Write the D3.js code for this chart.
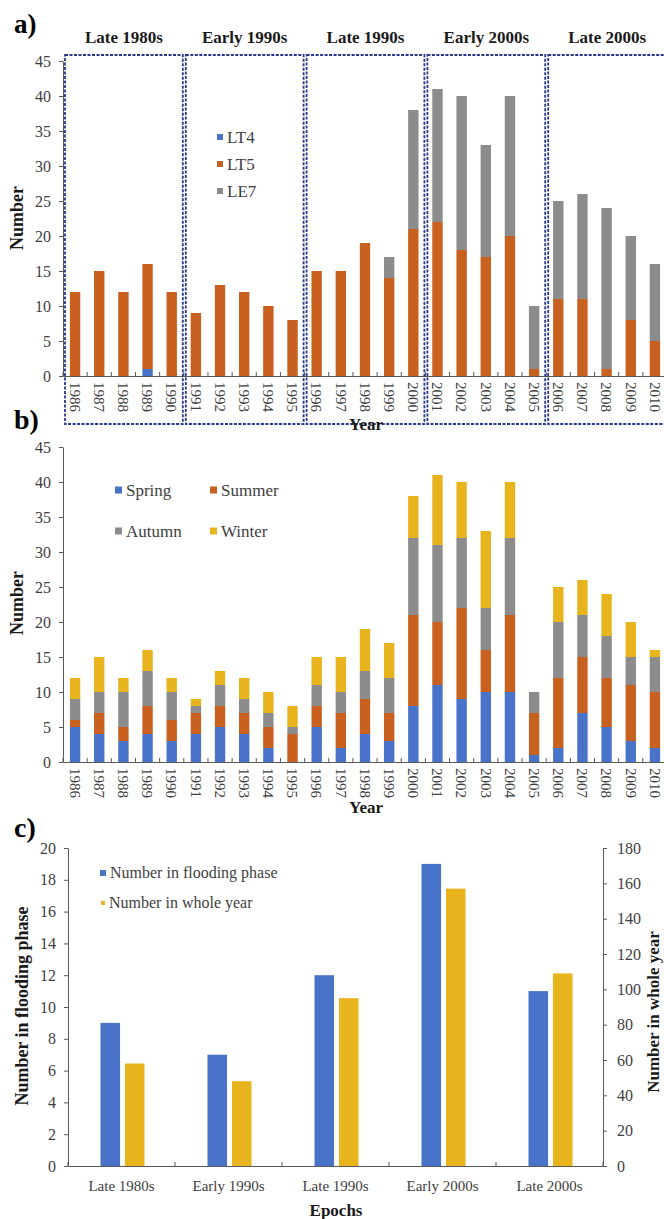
<!DOCTYPE html>
<html>
<head>
<meta charset="utf-8">
<script src="https://cdn.jsdelivr.net/npm/d3@7"></script>
<style>
body{margin:0;background:#fff;}
svg{display:block;font-family:"Liberation Serif","Times New Roman",serif;}
</style>
</head>
<body>
<div id="chart"></div>
<script>
// ---- data ----
var years = ["1986","1987","1988","1989","1990","1991","1992","1993","1994","1995",
             "1996","1997","1998","1999","2000","2001","2002","2003","2004","2005",
             "2006","2007","2008","2009","2010"];
var lt4 = [0,0,0,1,0, 0,0,0,0,0, 0,0,0,0,0, 0,0,0,0,0, 0,0,0,0,0];
var lt5 = [12,15,12,15,12, 9,13,12,10,8, 15,15,19,14,21, 22,18,17,20,1, 11,11,1,8,5];
var le7 = [0,0,0,0,0, 0,0,0,0,0, 0,0,0,3,17, 19,22,16,20,9, 14,15,23,12,11];

var spring = [5,4,3,4,3, 4,5,4,2,0, 5,2,4,3,8, 11,9,10,10,1, 2,7,5,3,2];
var summer = [1,3,2,4,3, 3,3,3,3,4, 3,5,5,4,13, 9,13,6,11,6, 10,8,7,8,8];
var autumn = [3,3,5,5,4, 1,3,2,2,1, 3,3,4,5,11, 11,10,6,11,3, 8,6,6,4,5];
var winter = [3,5,2,3,2, 1,2,3,3,3, 4,5,6,5,6, 10,8,11,8,0, 5,5,6,5,1];

var epochs = ["Late 1980s","Early 1990s","Late 1990s","Early 2000s","Late 2000s"];
var floodCount = [9,7,12,19,11];
var yearCount = [58,48,95,157,109];

var countTicks = [0,5,10,15,20,25,30,35,40,45];
var floodTicks = [0,2,4,6,8,10,12,14,16,18,20];
var wholeTicks = [0,20,40,60,80,100,120,140,160,180];

var col = {blue:"#4873C8", orange:"#C8611F", grey:"#8C8C8C", yellow:"#E8B41E"};
var tickCol = "#404040", axisCol = "#595959";

var W = 664, H = 1219;
var svg = d3.select("#chart").append("svg").attr("width", W).attr("height", H);

var x = d3.scaleBand().domain(years).range([63, 667]).paddingInner(0.57).paddingOuter(0.285);

function yearAxis(y0){
  var g = svg.append("g").attr("transform", "translate(0," + y0 + ")")
    .call(d3.axisBottom(x).tickSize(0).tickSizeOuter(0));
  g.select(".domain").attr("stroke", axisCol);
  g.selectAll("text")
    .attr("y", 0).attr("x", 6).attr("dy", "0.35em")
    .attr("transform", "rotate(90)")
    .style("text-anchor", "start")
    .style("font-family", "Liberation Serif").style("font-size", "15px").attr("fill", tickCol);
  // boundary ticks
  svg.append("g").selectAll("line").data(d3.range(years.length + 1)).enter().append("line")
    .attr("x1", i => 63 + x.step() * i).attr("x2", i => 63 + x.step() * i)
    .attr("y1", y0).attr("y2", y0 - 4).attr("stroke", axisCol);
}

function leftAxis(y, ticks, xPos){
  var g = svg.append("g").attr("transform", "translate(" + xPos + ",0)")
    .call(d3.axisLeft(y).tickValues(ticks).tickSize(4).tickSizeOuter(0).tickPadding(8));
  g.select(".domain").attr("stroke", axisCol);
  g.selectAll("line").attr("stroke", axisCol);
  g.selectAll("text").style("font-family", "Liberation Serif").style("font-size", "16px").attr("fill", tickCol);
  return g;
}

function legendItem(px, py, color, label, size, fs){
  svg.append("rect").attr("x", px).attr("y", py - size / 2).attr("width", size).attr("height", size).attr("fill", color);
  svg.append("text").attr("x", px + size + 4).attr("y", py + fs * 0.33)
    .style("font-size", fs + "px").attr("fill", tickCol).text(label);
}

function boldText(tx, ty, rot, fs, label){
  svg.append("text").attr("transform", "translate(" + tx + "," + ty + ") rotate(" + rot + ")")
    .style("text-anchor", "middle").style("font-weight", "bold").style("font-size", fs + "px")
    .attr("fill", "#1a1a1a").text(label);
}

// ================= panel a =================
var ya = d3.scaleLinear().domain([0, 45]).range([376, 61]);
var tableA = years.map((d, i) => ({year: d, LT4: lt4[i], LT5: lt5[i], LE7: le7[i]}));
var stackA = d3.stack().keys(["LT4", "LT5", "LE7"])(tableA);
var colA = {LT4: col.blue, LT5: col.orange, LE7: col.grey};

svg.append("g").selectAll("g").data(stackA).enter().append("g")
  .attr("fill", d => colA[d.key])
  .selectAll("rect").data(d => d).enter().append("rect")
  .attr("x", d => x(d.data.year)).attr("width", x.bandwidth())
  .attr("y", d => ya(d[1])).attr("height", d => ya(d[0]) - ya(d[1]));

leftAxis(ya, countTicks, 63);
yearAxis(376);

// epoch boxes
var boxStep = x.step() * 5;
epochs.forEach(function(e, i){
  var bx0 = 63 + boxStep * i + 2, bx1 = 63 + boxStep * (i + 1) - 1;
  svg.append("rect").attr("x", bx0).attr("y", 55).attr("width", bx1 - bx0).attr("height", 369)
    .attr("fill", "none").attr("stroke", "#27378c").attr("stroke-width", 1.8)
    .attr("stroke-dasharray", "3,1.5");
  boldText((bx0 + bx1) / 2, 43, 0, 17, e);
});

legendItem(217, 137, col.blue, "LT4", 6, 17);
legendItem(217, 164, col.orange, "LT5", 6, 17);
legendItem(217, 191, col.grey, "LE7", 6, 17);

boldText(23, 218, -90, 18, "Number");
boldText(366, 430, 0, 17, "Year");
svg.append("text").attr("x", 14).attr("y", 33).style("font-size", "27px").style("font-weight", "bold").text("a)");

// ================= panel b =================
var yb = d3.scaleLinear().domain([0, 45]).range([762, 447]);
var tableB = years.map((d, i) => ({year: d, Spring: spring[i], Summer: summer[i], Autumn: autumn[i], Winter: winter[i]}));
var stackB = d3.stack().keys(["Spring", "Summer", "Autumn", "Winter"])(tableB);
var colB = {Spring: col.blue, Summer: col.orange, Autumn: col.grey, Winter: col.yellow};

svg.append("g").selectAll("g").data(stackB).enter().append("g")
  .attr("fill", d => colB[d.key])
  .selectAll("rect").data(d => d).enter().append("rect")
  .attr("x", d => x(d.data.year)).attr("width", x.bandwidth())
  .attr("y", d => yb(d[1])).attr("height", d => yb(d[0]) - yb(d[1]));

leftAxis(yb, countTicks, 63);
yearAxis(762);

legendItem(115, 490, col.blue, "Spring", 7, 17);
legendItem(210, 490, col.orange, "Summer", 7, 17);
legendItem(115, 531, col.grey, "Autumn", 7, 17);
legendItem(210, 531, col.yellow, "Winter", 7, 17);

boldText(23, 603, -90, 18, "Number");
boldText(366, 813, 0, 17, "Year");
svg.append("text").attr("x", 14).attr("y", 429).style("font-size", "28px").style("font-weight", "bold").text("b)");

// ================= panel c =================
var xc = d3.scaleBand().domain(epochs).range([68, 603]);
var sub = d3.scaleBand().domain(["flood", "whole"]).range([-21, 23]).paddingInner(0.2);
var ycl = d3.scaleLinear().domain([0, 20]).range([1166, 848]);
var ycr = d3.scaleLinear().domain([0, 180]).range([1166, 848]);

var cx0 = d => xc(d) + xc.bandwidth() / 2;
svg.append("g").selectAll("rect").data(epochs).enter().append("rect")
  .attr("x", (d) => cx0(d) + sub("flood")).attr("width", sub.bandwidth())
  .attr("y", (d, i) => ycl(floodCount[i])).attr("height", (d, i) => ycl(0) - ycl(floodCount[i]))
  .attr("fill", col.blue);
svg.append("g").selectAll("rect").data(epochs).enter().append("rect")
  .attr("x", (d) => cx0(d) + sub("whole")).attr("width", sub.bandwidth())
  .attr("y", (d, i) => ycr(yearCount[i])).attr("height", (d, i) => ycr(0) - ycr(yearCount[i]))
  .attr("fill", col.yellow);

leftAxis(ycl, floodTicks, 68);
var gr = svg.append("g").attr("transform", "translate(603,0)")
  .call(d3.axisRight(ycr).tickValues(wholeTicks).tickSize(4).tickSizeOuter(0).tickPadding(10));
gr.select(".domain").attr("stroke", axisCol);
gr.selectAll("line").attr("stroke", axisCol);
gr.selectAll("text").style("font-family", "Liberation Serif").style("font-size", "16px").attr("fill", tickCol);

var gx = svg.append("g").attr("transform", "translate(0,1166)")
  .call(d3.axisBottom(xc).tickSize(0).tickSizeOuter(0).tickPadding(14));
gx.select(".domain").attr("stroke", axisCol);
gx.selectAll("text").style("font-family", "Liberation Serif").style("font-size", "15px").attr("fill", tickCol);
svg.append("g").selectAll("line").data(d3.range(epochs.length + 1)).enter().append("line")
  .attr("x1", i => 68 + xc.step() * i).attr("x2", i => 68 + xc.step() * i)
  .attr("y1", 1166).attr("y2", 1162).attr("stroke", axisCol);

legendItem(100, 873, col.blue, "Number in flooding phase", 6, 16);
legendItem(101, 903, col.yellow, "Number in whole year", 4, 16);

boldText(28, 1006, -90, 18, "Number in flooding phase");
boldText(659, 1012, -90, 17, "Number in whole year");
boldText(336, 1216, 0, 17, "Epochs");
svg.append("text").attr("x", 14).attr("y", 837).style("font-size", "28px").style("font-weight", "bold").text("c)");
</script>
</body>
</html>
